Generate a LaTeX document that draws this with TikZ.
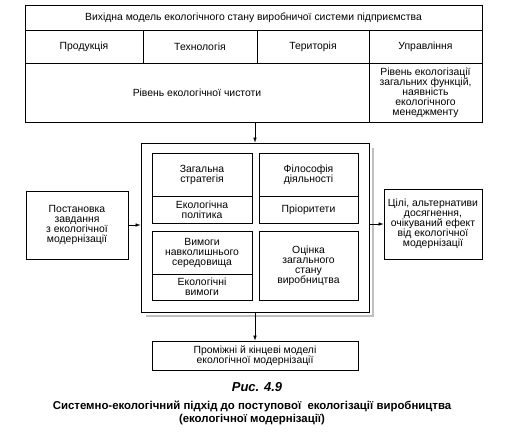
\documentclass[tikz,border=0pt]{standalone}
\usepackage{fontspec}
\setmainfont{Liberation Sans}
\usetikzlibrary{arrows.meta}
\begin{document}
\begin{tikzpicture}[x=1pt,y=-1pt,
  box/.style={draw, line width=0.7pt, inner sep=1pt, align=center, font=\fontsize{10.4}{10}\selectfont},
  arr/.style={line width=0.6pt, -{Latex[length=5pt,width=3.5pt]}}]
\useasboundingbox (0,0) rectangle (519,437);
% top table
\node[box, minimum width=457, minimum height=25] (title) at (253.5,17.5) {Вихідна модель екологічного стану виробничої системи підприємства};
\node[box, minimum width=118, minimum height=33] (prod) at (84,46.5) {Продукція};
\node[box, minimum width=114, minimum height=33] (tech) at (200,46.5) {Технологія};
\node[box, minimum width=112, minimum height=33] (terr) at (313,46.5) {Територія};
\node[box, minimum width=113, minimum height=33] (upr) at (425.5,46.5) {Управління};
\node[box, minimum width=344, minimum height=59] (chist) at (197,92.5) {Рівень екологічної чистоти};
\node[box, minimum width=113, minimum height=59] (rivn) at (425.5,92.5) {Рівень екологізації\\загальних функцій,\\наявність\\екологічного\\менеджменту};
% big box shadow and box
\draw[gray!50, line width=1.2pt] (146,316) -- (373,316) -- (373,148);
\node[box, fill=white, minimum width=228, minimum height=169] (big) at (255,227.5) {};
% inner boxes
\node[box, minimum width=100, minimum height=43] (zag) at (202,174.5) {Загальна\\стратегія};
\node[box, minimum width=100, minimum height=27] (ekpol) at (202,209.5) {Екологічна\\політика};
\node[box, minimum width=99, minimum height=43] (fil) at (308.5,174.5) {Філософія\\діяльності};
\node[box, minimum width=99, minimum height=27] (prior) at (308.5,209.5) {Пріоритети};
\node[box, minimum width=100, minimum height=43] (vym) at (202,252.5) {Вимоги\\навколишнього\\середовища};
\node[box, minimum width=100, minimum height=26] (ekvym) at (202,287) {Екологічні\\вимоги};
\node[box, minimum width=99, minimum height=69] (ocin) at (308.5,265.5) {Оцінка\\загального\\стану\\виробництва};
% side boxes
\node[box, minimum width=102, minimum height=68] (post) at (77,225) {Постановка\\завдання\\з екологічної\\модернізації};
\node[box, minimum width=98, minimum height=70] (cili) at (433,224) {Цілі, альтернативи\\досягнення,\\очікуваний ефект\\від екологічної\\модернізації};
% bottom box
\node[box, minimum width=206, minimum height=29] (prom) at (255,355.5) {Проміжні й кінцеві моделі\\екологічної модернізації};
% arrows
\draw[arr] (chist.south -| big.north) -- (big.north);
\draw[arr] (post.east) -- (post.east -| big.west);
\draw[arr] (big.east |- cili.west) -- (cili.west);
\draw[arr] (big.south) -- (prom.north);
% caption
\node[font=\fontsize{13}{14}\selectfont\bfseries\itshape] (fig) at (257,387) {Рис. 4.9};
\node[align=center, font=\fontsize{11.4}{12.7}\selectfont\bfseries] (cap) at (252,413) {Системно-екологічний підхід до поступової\ \ екологізації виробництва\\(екологічної модернізації)};
\end{tikzpicture}
\end{document}
